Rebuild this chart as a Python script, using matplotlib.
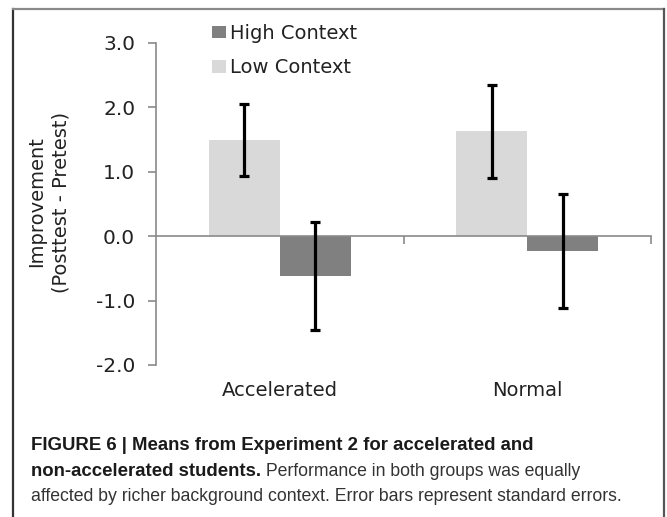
import matplotlib
matplotlib.use("Agg")
import matplotlib.pyplot as plt
from matplotlib.lines import Line2D
from matplotlib.patches import Patch
import numpy as np

# ---- data ----
categories = ["Accelerated", "Normal"]
series_names = ["High Context", "Low Context"]
low_vals = [1.50, 1.63]
low_err = [0.56, 0.72]
high_vals = [-0.62, -0.23]
high_err = [0.84, 0.88]
yticks = [-2.0, -1.0, 0.0, 1.0, 2.0, 3.0]
ylabel = "Improvement\n(Posttest - Pretest)"
caption_bold1 = "FIGURE 6 | Means from Experiment 2 for accelerated and"
caption_bold2 = "non-accelerated students."
caption_reg2 = " Performance in both groups was equally"
caption_reg3 = "affected by richer background context. Error bars represent standard errors."

HIGH_C = "#808080"
LOW_C = "#d9d9d9"
AXC = "#8a8a8a"

W, H = 667, 517
fig = plt.figure(figsize=(W / 100, H / 100), dpi=100)
fig.patch.set_facecolor("white")

ax = fig.add_axes([156 / W, 1 - 365 / H, (651 - 156) / W, (365 - 43) / H])
x = np.arange(len(categories))
bw = 0.287
ax.bar(x - bw / 2, low_vals, bw, color=LOW_C, zorder=2)
ax.bar(x + bw / 2, high_vals, bw, color=HIGH_C, zorder=2)
ax.errorbar(x - bw / 2, low_vals, yerr=low_err, fmt="none", ecolor="black",
            elinewidth=2.3, capsize=3.6, capthick=2.3, zorder=3)
ax.errorbar(x + bw / 2, high_vals, yerr=high_err, fmt="none", ecolor="black",
            elinewidth=2.3, capsize=3.6, capthick=2.3, zorder=3)

ax.set_xlim(-0.5, len(categories) - 0.5)
ax.set_ylim(min(yticks), max(yticks))
ax.set_yticks(yticks)
ax.set_yticklabels([f"{v:.1f}" for v in yticks])

for s in ["top", "right"]:
    ax.spines[s].set_visible(False)
ax.spines["left"].set_color(AXC)
ax.spines["left"].set_linewidth(1.2)
ax.spines["bottom"].set_position(("data", 0))
ax.spines["bottom"].set_color(AXC)
ax.spines["bottom"].set_linewidth(1.2)

ax.tick_params(axis="y", direction="out", length=6, width=1.2, color=AXC,
               labelsize=14.5, pad=9, labelcolor="#222222")
ax.set_xticks(x)
ax.set_xticklabels(categories)
ax.set_xticks(x + 0.5, minor=True)
ax.tick_params(axis="x", which="major", length=0, labelsize=14,
               pad=104, labelcolor="#222222")
ax.tick_params(axis="x", which="minor", direction="out", length=6,
               width=1.2, color=AXC)

fig.text(37 / W, 1 - 202 / H, "Improvement", rotation=90, ha="center",
         va="center", fontsize=14, color="#222222")
fig.text(61 / W, 1 - 202 / H, "(Posttest - Pretest)", rotation=90,
         ha="center", va="center", fontsize=14, color="#222222")

handles = [Patch(facecolor=HIGH_C, edgecolor="none"),
           Patch(facecolor=LOW_C, edgecolor="none")]
leg = fig.legend(handles, series_names, loc="upper left",
                 bbox_to_anchor=(212 / W, 1 - 24 / H), frameon=False,
                 fontsize=14, handlelength=0.72, handleheight=0.62,
                 handletextpad=0.22, labelspacing=0.78, borderpad=0,
                 borderaxespad=0)
for t in leg.get_texts():
    t.set_color("#222222")

# border
fig.add_artist(Line2D([13 / W, 13 / W], [0, 1 - 9 / H], color="#333333",
                      lw=1.6, transform=fig.transFigure))
fig.add_artist(Line2D([13 / W, 664 / W], [1 - 9 / H, 1 - 9 / H],
                      color="#8a8a8a", lw=1.6, transform=fig.transFigure))
fig.add_artist(Line2D([664 / W, 664 / W], [0, 1 - 9 / H], color="#555555",
                      lw=1.6, transform=fig.transFigure))

# caption
cf = ["Liberation Sans", "DejaVu Sans"]
fig.text(31 / W, 1 - 450 / H, caption_bold1, fontsize=13.4, fontweight="bold",
         family=cf, color="#1a1a1a", va="baseline")
tb = fig.text(31 / W, 1 - 476 / H, caption_bold2, fontsize=13.4,
              fontweight="bold", family=cf, color="#1a1a1a", va="baseline")
fig.canvas.draw()
ext = tb.get_window_extent()
fig.text(ext.x1 / W, 1 - 476 / H, caption_reg2, fontsize=12.7, family=cf,
         color="#333333", va="baseline")
fig.text(31 / W, 1 - 501 / H, caption_reg3, fontsize=12.7, family=cf,
         color="#333333", va="baseline")

fig.savefig("out.png", dpi=100, facecolor="white")
